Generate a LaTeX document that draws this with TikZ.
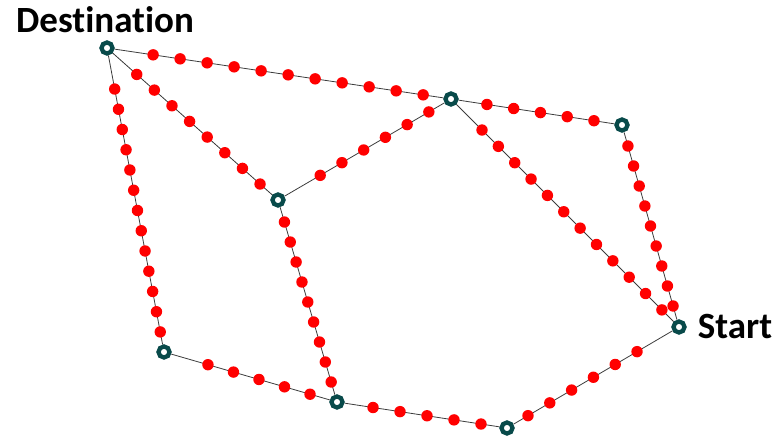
\documentclass[tikz,border=0pt]{standalone}
\usepackage{fontspec}
\newfontfamily\lblfont[Ligatures=NoCommon]{Carlito}
\usetikzlibrary{positioning,calc}

\definecolor{ringteal}{RGB}{8,74,74}
\definecolor{linkgray}{RGB}{60,60,60}

% link between two stops, with n red dots from t1 to t2
\newcommand{\dotlink}[5]{%
  \draw[link] (#1) -- (#2);
  \foreach \k in {1,...,#3} {
    \pgfmathsetmacro\tpos{#4+(#5-#4)*(\k-1)/(#3-1)}
    \fill[waypt] ($(#1)!\tpos!(#2)$) circle (5.7pt);
  }
}

\begin{document}
\begin{tikzpicture}[
  x=1pt, y=-1pt,
  stopnode/.style={circle, draw=ringteal, fill=white, line width=4.3pt,
    minimum size=11pt, inner sep=0pt},
  link/.style={draw=linkgray, line width=0.8pt},
  waypt/.style={fill=red},
  lbl/.style={font=\lblfont\bfseries\fontsize{37}{40}\selectfont, inner sep=0pt}
]
  \useasboundingbox (0,0) rectangle (778,438);

  \node[stopnode] (dest)  at (107,48)  {};
  \node[stopnode] (hub)   at (451,99)  {};
  \node[stopnode] (ne)    at (622,125) {};
  \node[stopnode] (mid)   at (278,200) {};
  \node[stopnode] (start) at (679,327) {};
  \node[stopnode] (sw)    at (164,352) {};
  \node[stopnode] (south) at (337,402) {};
  \node[stopnode] (se)    at (507,428) {};

  \node[lbl, above=7pt of dest, xshift=-2pt] (destlbl) {Destination};
  \node[lbl, right=11pt of start] (startlbl) {Start};

  \dotlink{dest}{hub}{11}{0.134}{0.919}
  \dotlink{hub}{ne}{5}{0.21}{0.836}
  \dotlink{dest}{mid}{8}{0.174}{0.895}
  \dotlink{mid}{hub}{6}{0.244}{0.872}
  \dotlink{dest}{sw}{13}{0.135}{0.934}
  \dotlink{sw}{south}{5}{0.254}{0.844}
  \dotlink{mid}{south}{9}{0.109}{0.901}
  \dotlink{south}{se}{5}{0.212}{0.847}
  \dotlink{se}{start}{6}{0.122}{0.756}
  \dotlink{hub}{start}{12}{0.136}{0.925}
  \dotlink{ne}{start}{9}{0.104}{0.896}
\end{tikzpicture}
\end{document}
